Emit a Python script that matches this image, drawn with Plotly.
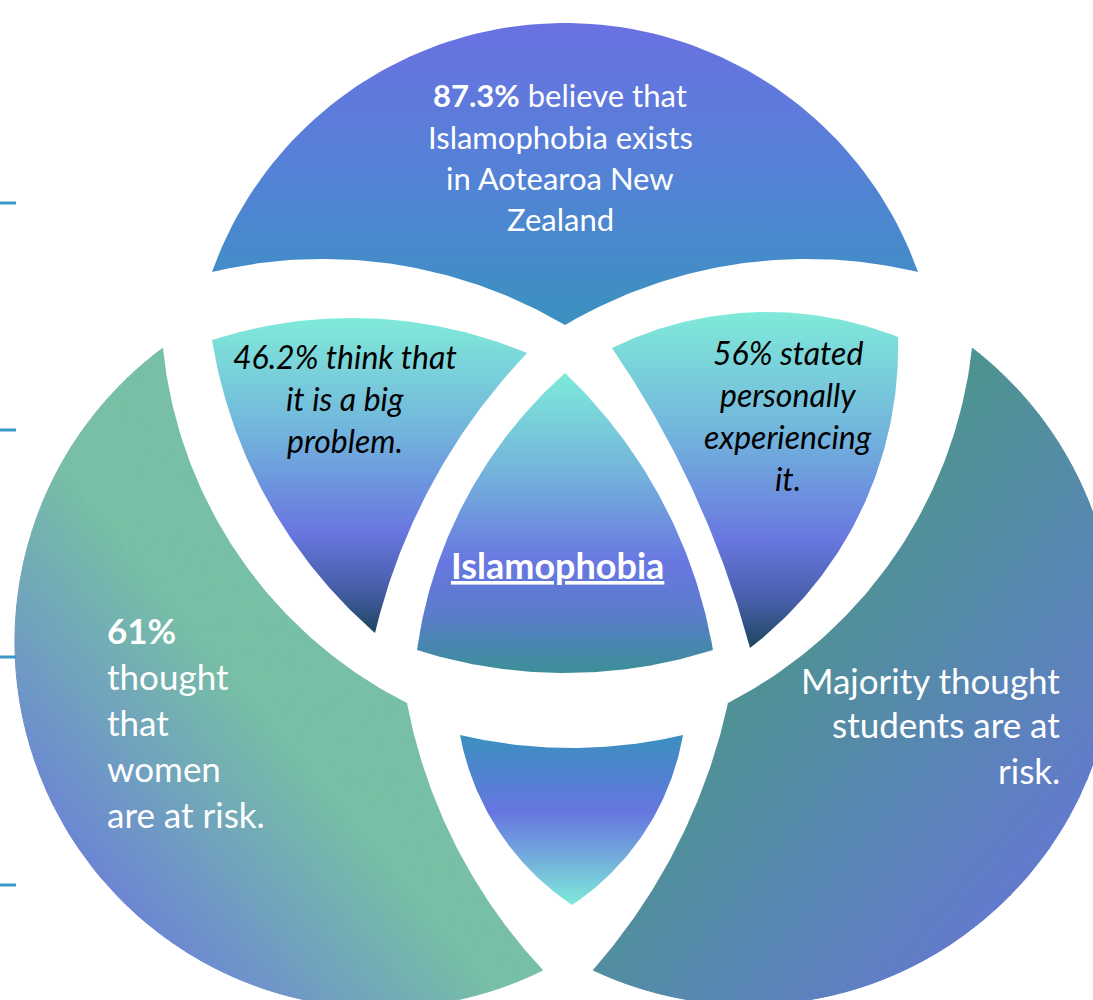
import numpy as np
import plotly.graph_objects as go

W, H = 1093, 1000

# text content of the seven Venn pieces
top_lines = ["<b>87.3%</b> believe that", "Islamophobia exists", "in Aotearoa New", "Zealand"]
left_lens_lines = ["46.2% think that", "it is a big", "problem."]
right_lens_lines = ["56% stated", "personally", "experiencing", "it."]
center_label = "Islamophobia"
left_lines = ["<b>61%</b>", "thought", "that", "women", "are at risk."]
right_lines = ["Majority thought", "students are at", "risk."]

# decorative tick marks on the left edge (y in px)
tick_rows = [203, 430, 657, 885]

# piece outlines: each edge is an arc through (start, via, end)
PIECES = {
    "top": [((212, 272), (565, 23), (918, 272)),
            ((918, 272), (797, 259), (565, 325)),
            ((565, 325), (333, 259), (212, 272))],
    "left_lens": [((212, 340), (343, 318), (527, 353)),
                  ((527, 353), (425, 497), (375, 633)),
                  ((375, 633), (262, 490), (212, 340))],
    "right_lens": [((612, 348), (763, 312), (898, 337)),
                   ((898, 337), (866, 500), (750, 648)),
                   ((750, 648), (703, 513), (612, 348))],
    "center": [((565, 373), (660, 497), (713, 650)),
               ((713, 650), (567, 673), (417, 650)),
               ((417, 650), (467, 497), (565, 373))],
    "bottom": [((460, 735), (572, 748), (683, 735)),
               ((683, 735), (644, 833), (572, 905)),
               ((572, 905), (500, 833), (460, 735))],
    # crescents: two inner (concave) edges, then the outer edge
    "left": [((163, 348), (233, 547), (407, 703)),
             ((407, 703), (458, 850), (543, 970)),
             ((543, 970), (15, 650), (163, 348))],
    "right": [((972, 348), (863, 597), (728, 703)),
              ((728, 703), (675, 850), (593, 970)),
              ((593, 970), (1115, 650), (972, 348))],
}


def circle3(p, q, r):
    ax, ay = p
    bx, by = q
    cx, cy = r
    d = 2 * (ax * (by - cy) + bx * (cy - ay) + cx * (ay - by))
    ux = ((ax**2 + ay**2) * (by - cy) + (bx**2 + by**2) * (cy - ay) + (cx**2 + cy**2) * (ay - by)) / d
    uy = ((ax**2 + ay**2) * (cx - bx) + (bx**2 + by**2) * (ax - cx) + (cx**2 + cy**2) * (bx - ax)) / d
    return np.array([ux, uy]), np.hypot(ax - ux, ay - uy)


def arc(p, m, q, n=90):
    c, r = circle3(p, m, q)
    a0 = np.arctan2(p[1] - c[1], p[0] - c[0])
    am = np.arctan2(m[1] - c[1], m[0] - c[0])
    a1 = np.arctan2(q[1] - c[1], q[0] - c[0])
    d1 = (a1 - a0) % (2 * np.pi)
    dm = (am - a0) % (2 * np.pi)
    if dm < d1:
        t = a0 + np.linspace(0, d1, n)
    else:
        t = a0 - np.linspace(0, 2 * np.pi - d1, n)
    return np.column_stack([c[0] + r * np.cos(t), c[1] + r * np.sin(t)])


def outline(name):
    return np.vstack([arc(*e)[:-1] for e in PIECES[name]])


def hex2rgb(h):
    h = h.lstrip("#")
    return np.array([int(h[i:i + 2], 16) for i in (0, 2, 4)], dtype=float)


def pick(scale, t):
    t = min(max(t, 0.0), 1.0)
    for (t0, c0), (t1, c1) in zip(scale[:-1], scale[1:]):
        if t <= t1:
            f = 0 if t1 == t0 else (t - t0) / (t1 - t0)
            rgb = hex2rgb(c0) * (1 - f) + hex2rgb(c1) * f
            return "rgb(%d,%d,%d)" % tuple(np.round(rgb))
    return scale[-1][1]


def clip(poly, n, c, sign):
    out = []
    for i in range(len(poly)):
        p, q = poly[i], poly[(i + 1) % len(poly)]
        fp, fq = sign * (p @ n - c), sign * (q @ n - c)
        if fp >= 0:
            out.append(p)
        if (fp >= 0) != (fq >= 0):
            out.append(p + fp / (fp - fq) * (q - p))
    return np.array(out)


def closed(pts):
    return np.append(pts[:, 0], pts[0, 0]), np.append(pts[:, 1], pts[0, 1])


fig = go.Figure()


def vertical_piece(name, y0, y1, scale):
    x, y = closed(outline(name))
    fig.add_trace(go.Scatter(
        x=x, y=y, mode="lines", fill="toself", line={"width": 0},
        fillgradient={"type": "vertical", "start": y0, "stop": y1, "colorscale": scale},
        hoverinfo="skip", showlegend=False,
    ))


def crescent_piece(name, direction, u0, u1, scale, step=5):
    """Diagonal gradient: colour strips clipped to the convex hull, then the
    two concave bites are painted back to white."""
    inner1, inner2, outer = [arc(*e) for e in PIECES[name]]
    hull = np.vstack([outer[:-1], inner1[0], inner1[-1]])
    n = np.array(direction, dtype=float)
    n /= np.linalg.norm(n)
    u = hull @ n
    edges = np.arange(u.min() - 1, u.max() + step, step)
    for a, b in zip(edges[:-1], edges[1:]):
        part = clip(clip(hull, n, a, 1), n, b, -1)
        if len(part) < 3:
            continue
        col = pick(scale, ((a + b) / 2 - u0) / (u1 - u0))
        x, y = closed(part)
        fig.add_trace(go.Scatter(
            x=x, y=y, mode="lines", fill="toself", fillcolor=col,
            line={"width": 1, "color": col}, hoverinfo="skip", showlegend=False,
        ))
    centre = hull.mean(axis=0)
    for bite in (inner1, inner2):
        p, q = bite[0], bite[-1]
        mid = (p + q) / 2
        out = mid - centre
        out = out / np.linalg.norm(out) * 4
        pts = np.vstack([bite, q + out, p + out])
        x, y = closed(pts)
        fig.add_trace(go.Scatter(
            x=x, y=y, mode="lines", fill="toself", fillcolor="white",
            line={"width": 0}, hoverinfo="skip", showlegend=False,
        ))


lens_scale = [[0, "#80ead9"], [0.35, "#72b6dc"], [0.68, "#6977e0"], [0.86, "#465ea8"], [1, "#1d465e"]]

crescent_piece("left", (0.77, -0.64), -520, -250, [[0, "#6a7cda"], [0.5, "#70a0c0"], [1, "#77bfa5"]])
crescent_piece("right", (0.77, 0.64), 1000, 1400, [[0, "#4e9292"], [0.5, "#5886b4"], [1, "#6676d4"]])
vertical_piece("top", 23, 325, [[0, "#6a71e2"], [0.5, "#5482d6"], [1, "#3a91c0"]])
vertical_piece("left_lens", 318, 633, lens_scale)
vertical_piece("right_lens", 312, 648, lens_scale)
vertical_piece("center", 373, 673, [[0, "#7eead9"], [0.35, "#73b0dc"], [0.63, "#6977e1"], [0.8, "#5a7ccb"], [1, "#3b8f98"]])
vertical_piece("bottom", 735, 905, [[0, "#3a90c0"], [0.45, "#6676e0"], [0.7, "#72a8dc"], [1, "#7eead9"]])

FONT = "Lato"
annotations = []


def add_lines(lines, x, ys, anchor, size, color, italic=False):
    for text, y in zip(lines, ys):
        annotations.append(dict(
            x=x, y=y, xref="x", yref="y", text=text, showarrow=False,
            xanchor=anchor, yanchor="middle",
            font={"family": FONT, "size": size, "color": color, "style": "italic" if italic else "normal"},
        ))


add_lines(top_lines, 560, [95, 137, 178, 219], "center", 31, "white")
add_lines(left_lens_lines, 345, [356, 398, 440], "center", 32, "black", italic=True)
add_lines(right_lens_lines, 788, [352, 394, 436, 478], "center", 32, "black", italic=True)
add_lines(left_lines, 105, [630, 676, 722, 768, 814], "left", 35, "white")
add_lines(right_lines, 1062, [680, 724, 770], "right", 35, "white")
annotations.append(dict(
    x=557, y=565, xref="x", yref="y", text="<b>" + center_label + "</b>", showarrow=False,
    xanchor="center", yanchor="middle",
    font={"family": FONT, "size": 36, "color": "white", "lineposition": "under"},
))

shapes = [dict(type="line", x0=0, x1=16, y0=y, y1=y, xref="x", yref="y",
               line={"color": "#3a97c9", "width": 3}) for y in tick_rows]

fig.update_layout(
    width=W, height=H, margin={"l": 0, "r": 0, "t": 0, "b": 0},
    paper_bgcolor="white", plot_bgcolor="white",
    xaxis={"range": [0, W], "visible": False, "fixedrange": True},
    yaxis={"range": [H, 0], "visible": False, "fixedrange": True},
    annotations=annotations, shapes=shapes, showlegend=False,
)

fig.write_html("out.html", config={"displayModeBar": False},
               post_script="document.body.style.margin='0';")
